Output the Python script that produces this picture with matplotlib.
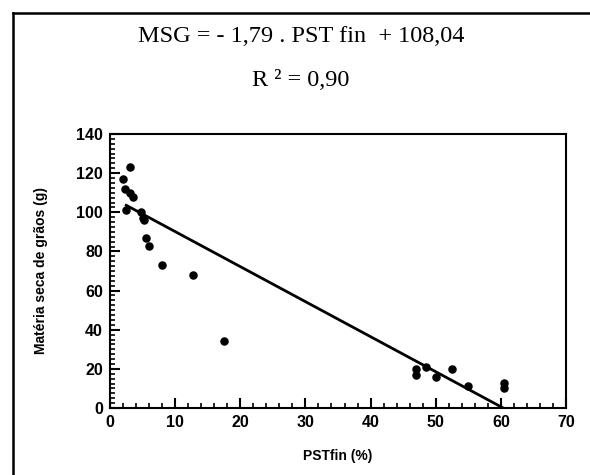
import matplotlib
matplotlib.use("Agg")
import matplotlib.pyplot as plt
from matplotlib.lines import Line2D
from matplotlib.ticker import MultipleLocator
import numpy as np

# PST final (%) e matéria seca de grãos (g)
pst_fin = [2.0, 2.3, 3.0, 3.0, 3.5, 2.5, 4.8, 5.0, 5.2, 5.5, 6.0, 8.0, 12.7, 17.5,
           47.0, 47.0, 48.5, 50.0, 52.5, 55.0, 60.5, 60.5]
msg = [117, 112, 123, 110, 108, 101, 100, 97, 96, 87, 83, 73, 68, 34,
       20, 17, 21, 16, 20, 11, 10, 13]

coef_a = -1.79
coef_b = 108.04
r2 = 0.90

fig = plt.figure(figsize=(5.9, 4.75), dpi=100)
ax = fig.add_axes([110/590, 1-408/475, 456/590, 274/475])

ax.scatter(pst_fin, msg, s=26, color="black", zorder=3)

xl = np.array([2.5, -coef_b/coef_a])
ax.plot(xl, coef_a*xl + coef_b, color="black", lw=2)

ax.set_xlim(0, 70)
ax.set_ylim(0, 140)
ax.xaxis.set_major_locator(MultipleLocator(10))
ax.xaxis.set_minor_locator(MultipleLocator(2))
ax.yaxis.set_major_locator(MultipleLocator(20))
ax.yaxis.set_minor_locator(MultipleLocator(2.5))
ax.tick_params(which="major", direction="in", length=7, width=1.5, labelsize=11.5, pad=5)
ax.tick_params(which="minor", direction="in", length=3.5, width=1.2)
for lab in ax.get_xticklabels() + ax.get_yticklabels():
    lab.set_fontweight("heavy")
    lab.set_family("Liberation Sans")
for sp in ax.spines.values():
    sp.set_linewidth(1.5)

ax.set_xlabel("PSTfin (%)", fontsize=10, fontweight="bold", family="Liberation Sans", labelpad=14)
ax.set_ylabel("Matéria seca de grãos (g)", fontsize=10, fontweight="bold", family="Liberation Sans", labelpad=20)

fig.text(0.51, 1-37/475, "MSG = - 1,79 . PST fin  + 108,04", ha="center", va="center",
         family="Liberation Serif", fontsize=17.5)
fig.text(0.51, 1-80/475, "R ² = 0,90", ha="center", va="center",
         family="Liberation Serif", fontsize=17.5)

# moldura externa
fig.add_artist(Line2D([13/590, 1], [1-13/475, 1-13/475], color="black", lw=1.8))
fig.add_artist(Line2D([13/590, 13/590], [0, 1-13/475], color="black", lw=1.8))

fig.savefig("out.png", dpi=100)
